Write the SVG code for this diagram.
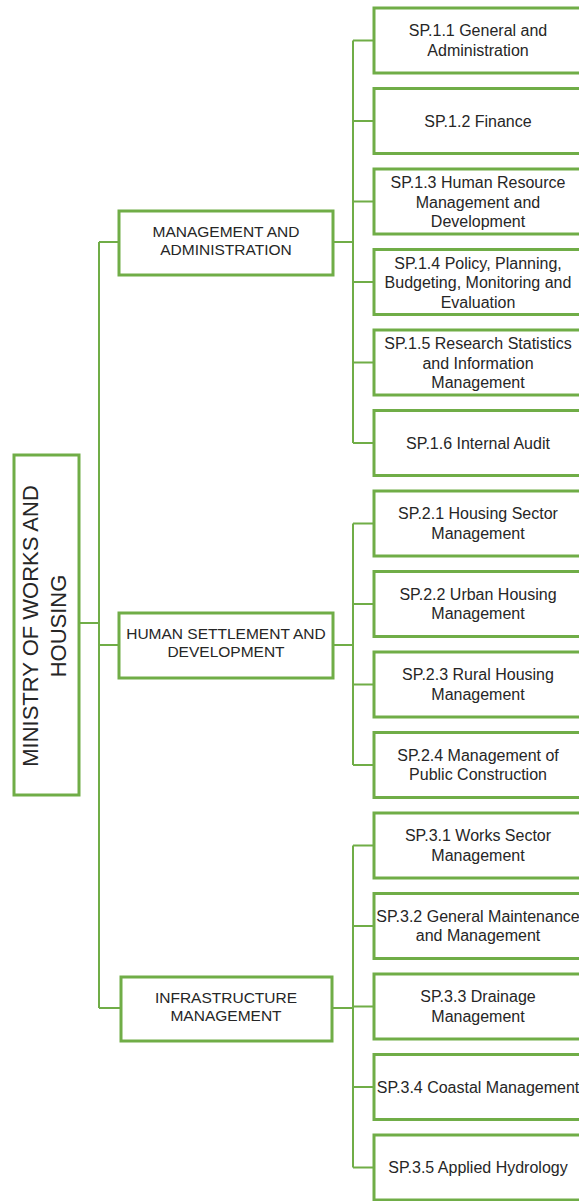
<svg xmlns="http://www.w3.org/2000/svg" width="579" height="1201" viewBox="0 0 579 1201">
<style>
.box{fill:#fff;stroke:#70AD47;stroke-width:3}
.con{fill:none;stroke:#70AD47;stroke-width:2}
text{font-family:"Liberation Sans",Arial,sans-serif;font-size:16px;fill:#262626;text-anchor:middle}
.mid{font-size:15.5px}
.root{font-size:22px}
</style>
<rect width="579" height="1201" fill="#fff"/>
<g id="connectors" class="con">
<path d="M79 623H99M99 242V1008M99 242H119M99 645H119M99 1008H121"/>
<path d="M333 242H353M353 40.5V443M353 40.5H374M353 121H374M353 201.5H374M353 282H374M353 362.5H374M353 443H374"/>
<path d="M333 645H353M353 523.5V765M353 523.5H374M353 604H374M353 684.5H374M353 765H374"/>
<path d="M332 1008H353M353 845.5V1167.5M353 845.5H374M353 926H374M353 1006.5H374M353 1087H374M353 1167.5H374"/>
</g>
<g id="root">
<rect class="box" x="14" y="455" width="65" height="340"/>
<g transform="translate(0,626) rotate(-90)">
<text class="root" x="0" y="38">MINISTRY OF WORKS AND</text>
<text class="root" x="0" y="66">HOUSING</text>
</g>
</g>
<g id="mgmt">
<rect class="box" x="119" y="211" width="214" height="64"/>
<text class="mid" x="226" y="237">MANAGEMENT AND</text>
<text class="mid" x="226" y="255">ADMINISTRATION</text>
</g>
<g id="hsd">
<rect class="box" x="119" y="613" width="214" height="65"/>
<text class="mid" x="226" y="639">HUMAN SETTLEMENT AND</text>
<text class="mid" x="226" y="657">DEVELOPMENT</text>
</g>
<g id="infra">
<rect class="box" x="121" y="977" width="211" height="64"/>
<text class="mid" x="226" y="1003">INFRASTRUCTURE</text>
<text class="mid" x="226" y="1021">MANAGEMENT</text>
</g>
<g id="sp11"><rect class="box" x="374" y="8" width="208" height="65"/>
<text x="478" y="36">SP.1.1 General and</text><text x="478" y="55.5">Administration</text></g>
<g id="sp12"><rect class="box" x="374" y="88.5" width="208" height="65"/>
<text x="478" y="126.5">SP.1.2 Finance</text></g>
<g id="sp13"><rect class="box" x="374" y="169" width="208" height="65"/>
<text x="478" y="188">SP.1.3 Human Resource</text><text x="478" y="207.5">Management and</text><text x="478" y="227">Development</text></g>
<g id="sp14"><rect class="box" x="374" y="249.5" width="208" height="65"/>
<text x="478" y="268.5">SP.1.4 Policy, Planning,</text><text x="478" y="288">Budgeting, Monitoring and</text><text x="478" y="307.5">Evaluation</text></g>
<g id="sp15"><rect class="box" x="374" y="330" width="208" height="65"/>
<text x="478" y="349">SP.1.5 Research Statistics</text><text x="478" y="368.5">and Information</text><text x="478" y="388">Management</text></g>
<g id="sp16"><rect class="box" x="374" y="410.5" width="208" height="65"/>
<text x="478" y="448.5">SP.1.6 Internal Audit</text></g>
<g id="sp21"><rect class="box" x="374" y="491" width="208" height="65"/>
<text x="478" y="519">SP.2.1 Housing Sector</text><text x="478" y="538.5">Management</text></g>
<g id="sp22"><rect class="box" x="374" y="571.5" width="208" height="65"/>
<text x="478" y="599.5">SP.2.2 Urban Housing</text><text x="478" y="619">Management</text></g>
<g id="sp23"><rect class="box" x="374" y="652" width="208" height="65"/>
<text x="478" y="680">SP.2.3 Rural Housing</text><text x="478" y="699.5">Management</text></g>
<g id="sp24"><rect class="box" x="374" y="732.5" width="208" height="65"/>
<text x="478" y="760.5">SP.2.4 Management of</text><text x="478" y="780">Public Construction</text></g>
<g id="sp31"><rect class="box" x="374" y="813" width="208" height="65"/>
<text x="478" y="841">SP.3.1 Works Sector</text><text x="478" y="860.5">Management</text></g>
<g id="sp32"><rect class="box" x="374" y="893.5" width="208" height="65"/>
<text x="478" y="921.5">SP.3.2 General Maintenance</text><text x="478" y="941">and Management</text></g>
<g id="sp33"><rect class="box" x="374" y="974" width="208" height="65"/>
<text x="478" y="1002">SP.3.3 Drainage</text><text x="478" y="1021.5">Management</text></g>
<g id="sp34"><rect class="box" x="374" y="1054.5" width="208" height="65"/>
<text x="478" y="1092.5">SP.3.4 Coastal Management</text></g>
<g id="sp35"><rect class="box" x="374" y="1135" width="208" height="65"/>
<text x="478" y="1173">SP.3.5 Applied Hydrology</text></g>
</svg>
